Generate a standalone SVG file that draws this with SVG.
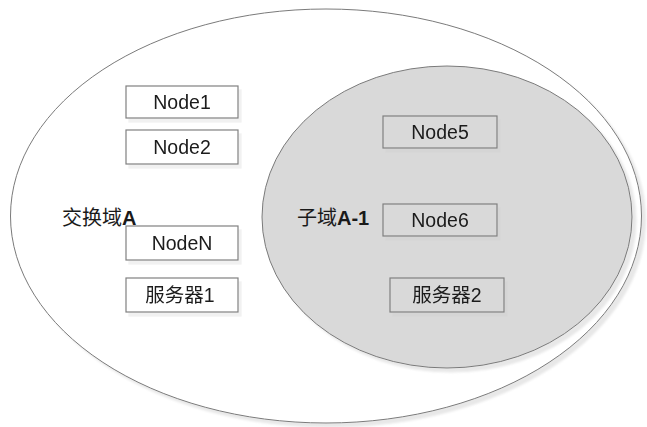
<svg xmlns="http://www.w3.org/2000/svg" width="647" height="427" viewBox="0 0 647 427">
  <defs>
    <filter id="ghost" x="-10%" y="-20%" width="130%" height="150%">
      <feOffset in="SourceGraphic" dx="3" dy="4" result="off"/>
      <feColorMatrix in="off" type="matrix" values="0 0 0 0 0.6  0 0 0 0 0.6  0 0 0 0 0.6  0 0 0 0.28 0" result="sh"/>
      <feMerge><feMergeNode in="sh"/><feMergeNode in="SourceGraphic"/></feMerge>
    </filter>
    <filter id="eshadow" x="-5%" y="-5%" width="112%" height="115%">
      <feOffset in="SourceAlpha" dx="4" dy="4" result="off"/>
      <feGaussianBlur in="off" stdDeviation="1.2" result="b"/>
      <feColorMatrix in="b" type="matrix" values="0 0 0 0 0.6  0 0 0 0 0.6  0 0 0 0 0.6  0 0 0 0.45 0" result="sh"/>
      <feMerge><feMergeNode in="sh"/><feMergeNode in="SourceGraphic"/></feMerge>
    </filter>
  </defs>
  <style>
    .domain { stroke: #7a7a7a; stroke-width: 1; }
    .box { stroke: #808080; stroke-width: 1.2; }
    .lbl { font-family: "Liberation Sans", "Noto Sans CJK SC", sans-serif; font-size: 19.5px; fill: #1a1a1a; text-anchor: middle; }
    .dlbl { font-family: "Liberation Sans", "Noto Sans CJK SC", sans-serif; font-size: 20px; fill: #1a1a1a; }
    .b { font-weight: bold; }
  </style>
  <rect width="647" height="427" fill="#ffffff"/>

  <g id="domainA">
    <ellipse class="domain" cx="326" cy="216" rx="315.5" ry="207" fill="#ffffff" filter="url(#eshadow)"/>
    <text class="dlbl" x="62" y="225">交换域<tspan class="b">A</tspan></text>
  </g>

  <g id="subdomainA1">
    <ellipse class="domain" cx="447" cy="217" rx="185" ry="151" fill="#d9d9d9" filter="url(#eshadow)"/>
    <text class="dlbl" x="297" y="225">子域<tspan class="b">A-1</tspan></text>
  </g>

  <g id="node1" filter="url(#ghost)">
    <rect class="box" x="126" y="86" width="112" height="32" fill="#ffffff"/>
    <text class="lbl" x="182" y="109">Node1</text>
  </g>
  <g id="node2" filter="url(#ghost)">
    <rect class="box" x="126" y="130" width="112" height="34" fill="#ffffff"/>
    <text class="lbl" x="182" y="154">Node2</text>
  </g>
  <g id="nodeN" filter="url(#ghost)">
    <rect class="box" x="126" y="226" width="112" height="34" fill="#ffffff"/>
    <text class="lbl" x="182" y="250">NodeN</text>
  </g>
  <g id="server1" filter="url(#ghost)">
    <rect class="box" x="126" y="278" width="112" height="34" fill="#ffffff"/>
    <text class="lbl" x="180" y="302">服务器1</text>
  </g>
  <g id="node5" filter="url(#ghost)">
    <rect class="box" x="383" y="116" width="114" height="32" fill="#d9d9d9"/>
    <text class="lbl" x="440" y="139">Node5</text>
  </g>
  <g id="node6" filter="url(#ghost)">
    <rect class="box" x="383" y="204" width="114" height="32" fill="#d9d9d9"/>
    <text class="lbl" x="440" y="227">Node6</text>
  </g>
  <g id="server2" filter="url(#ghost)">
    <rect class="box" x="390" y="278" width="114" height="34" fill="#d9d9d9"/>
    <text class="lbl" x="447" y="302">服务器2</text>
  </g>

  <g id="connectors"></g>
</svg>
